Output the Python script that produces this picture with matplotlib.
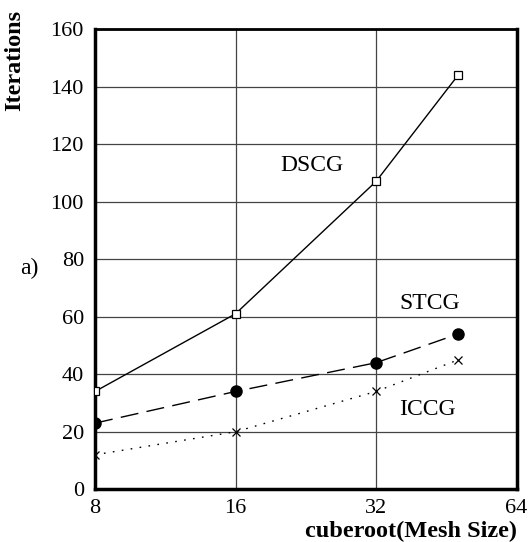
import matplotlib
matplotlib.use("Agg")
import matplotlib.pyplot as plt
from matplotlib.ticker import FixedLocator, FixedFormatter, NullLocator

# data
mesh_sizes = [8, 16, 32, 48]
dscg = [34, 61, 107, 144]
stcg = [23, 34, 44, 54]
iccg = [12, 20, 34, 45]

x_ticks = [8, 16, 32, 64]
y_ticks = [0, 20, 40, 60, 80, 100, 120, 140, 160]

plt.rcParams["font.family"] = ["Liberation Serif", "DejaVu Serif"]

fig = plt.figure(figsize=(5.31, 5.42), dpi=100)
ax = fig.add_axes([95 / 531, 1 - 489.3 / 542, (516.5 - 95) / 531, (489.3 - 29) / 542])

ax.plot(mesh_sizes, dscg, color="black", linewidth=1.0,
        marker="s", markersize=6, markerfacecolor="white",
        markeredgecolor="black", markeredgewidth=0.9, zorder=3)
ax.plot(mesh_sizes, stcg, color="black", linewidth=1.0,
        linestyle=(0, (13, 6)), marker="o", markersize=8,
        markerfacecolor="black", zorder=3)
ax.plot(mesh_sizes, iccg, color="black", linewidth=1.0,
        linestyle=(0, (1.2, 5.3)), marker="x", markersize=6,
        markeredgewidth=0.9, zorder=3)

ax.set_xscale("log", base=2)
ax.set_xlim(8, 64)
ax.set_ylim(0, 160)
ax.xaxis.set_major_locator(FixedLocator(x_ticks))
ax.xaxis.set_major_formatter(FixedFormatter([str(v) for v in x_ticks]))
ax.xaxis.set_minor_locator(NullLocator())
ax.set_yticks(y_ticks)

ax.tick_params(axis="both", length=0, labelsize=16)
ax.tick_params(axis="y", pad=8)
ax.tick_params(axis="x", pad=7)
ax.grid(True, color="#444444", linewidth=0.9)
ax.set_axisbelow(True)

for side in ["left", "bottom", "right"]:
    ax.spines[side].set_linewidth(2.5)
ax.spines["top"].set_linewidth(2.0)

fig.text(15 / 531, 1 - 60 / 542, "Iterations", rotation=90, fontsize=17.5,
         fontweight="bold", ha="center", va="center")
fig.text(517 / 531, 1 - 531 / 542, "cuberoot(Mesh Size)", fontsize=17.5,
         fontweight="bold", ha="right", va="center")
fig.text(29 / 531, 1 - 268 / 542, "a)", fontsize=17, ha="center", va="center")

ax.text(23.3, 112.7, "DSCG", fontsize=17, ha="center", va="center")
ax.text(41.8, 64.7, "STCG", fontsize=17, ha="center", va="center")
ax.text(41.3, 27.6, "ICCG", fontsize=17, ha="center", va="center")

fig.savefig("out.png", dpi=100)
